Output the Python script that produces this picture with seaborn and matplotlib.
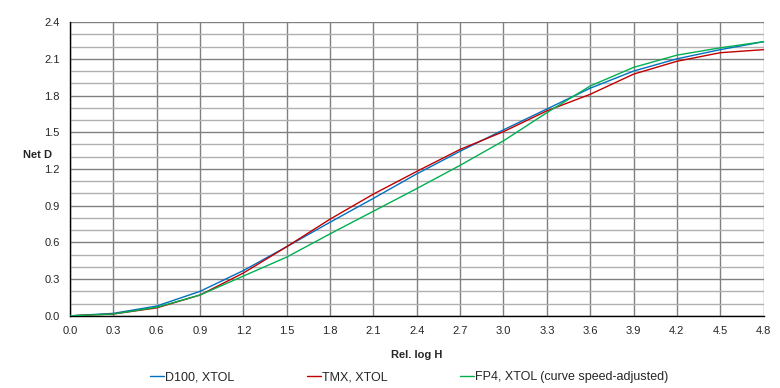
import numpy as np
import pandas as pd
import matplotlib
matplotlib.use("Agg")
import matplotlib.pyplot as plt
import seaborn as sns
from matplotlib.ticker import MultipleLocator

# Rel. log H steps
log_h = [0.0, 0.3, 0.6, 0.9, 1.2, 1.5, 1.8, 2.1, 2.4, 2.7, 3.0, 3.3, 3.6, 3.9, 4.2, 4.5, 4.8]

# Net D values
d100 = [0.0, 0.02, 0.08, 0.20, 0.37, 0.565, 0.765, 0.96, 1.16, 1.345, 1.52, 1.69, 1.86, 2.0, 2.10, 2.175, 2.24]
tmx = [0.0, 0.015, 0.065, 0.17, 0.35, 0.565, 0.79, 0.995, 1.18, 1.36, 1.505, 1.675, 1.81, 1.975, 2.08, 2.15, 2.175]
fp4 = [0.0, 0.015, 0.07, 0.17, 0.325, 0.48, 0.67, 0.855, 1.04, 1.23, 1.43, 1.66, 1.878, 2.03, 2.13, 2.19, 2.24]

labels = ["D100, XTOL", "TMX, XTOL", "FP4, XTOL (curve speed-adjusted)"]
colors = ["#0070C0", "#C00000", "#00B050"]

df = pd.DataFrame({
    "x": log_h * 3,
    "y": d100 + tmx + fp4,
    "film": [labels[0]] * len(log_h) + [labels[1]] * len(log_h) + [labels[2]] * len(log_h),
})

sns.set_style("white")
plt.rcParams["font.family"] = ["Liberation Sans", "DejaVu Sans"]
plt.rcParams["font.size"] = 8

fig, ax = plt.subplots(figsize=(7.8, 3.88), dpi=100)
fig.subplots_adjust(left=0.0897, right=0.979, top=0.943, bottom=0.186)

sns.lineplot(data=df, x="x", y="y", hue="film", palette=colors, linewidth=1.0,
             ax=ax, legend=True, zorder=3)

ax.set_xlim(0, 4.8)
ax.set_ylim(0, 2.4)
ax.xaxis.set_major_locator(MultipleLocator(0.3))
ax.yaxis.set_major_locator(MultipleLocator(0.3))
ax.yaxis.set_minor_locator(MultipleLocator(0.1))
ax.xaxis.set_major_formatter(matplotlib.ticker.FormatStrFormatter("%.1f"))
ax.yaxis.set_major_formatter(matplotlib.ticker.FormatStrFormatter("%.1f"))

ax.grid(which="major", color="#808080", linewidth=1.0, zorder=0)
ax.grid(which="minor", axis="y", color="#b0b0b0", linewidth=1.0, zorder=0)
ax.set_axisbelow(True)

for side in ["top", "right"]:
    ax.spines[side].set_visible(False)
for side in ["left", "bottom"]:
    ax.spines[side].set_color("black")
    ax.spines[side].set_linewidth(1.0)
ax.tick_params(which="major", direction="out", length=4, width=1, color="black", labelsize=8)
ax.tick_params(which="minor", length=0)

ax.set_xlabel("Rel. log H", fontweight="bold", fontsize=8, labelpad=10)
ax.set_ylabel("Net D", fontweight="bold", fontsize=8, rotation=0, ha="center", va="center")
ax.yaxis.set_label_coords(-0.046, 0.548)

handles, lbls = ax.get_legend_handles_labels()
ax.get_legend().remove()
fig.legend(handles, lbls, loc="center", bbox_to_anchor=(0.525, 0.028), ncol=3, frameon=False,
           handlelength=1.1, handletextpad=0.1, columnspacing=5.8, fontsize=9)

fig.savefig("out.png", dpi=100)
